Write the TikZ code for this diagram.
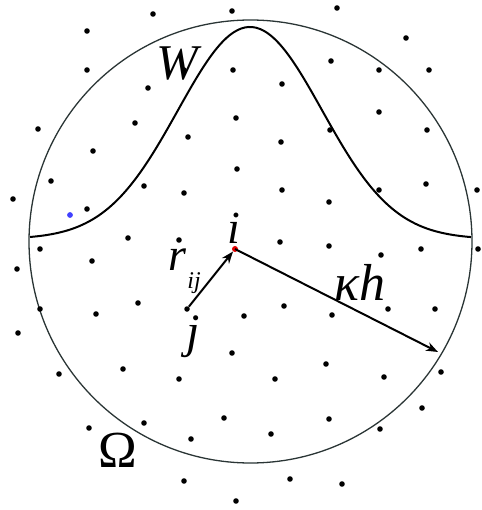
\documentclass[tikz,border=0pt]{standalone}
\usepackage{fontspec}
\setmainfont{Liberation Serif}
\usetikzlibrary{arrows.meta}
\definecolor{circcol}{HTML}{2A3535}
\tikzset{
  pt/.style={circle,fill=black,inner sep=0pt,minimum size=5.5pt},
  lbl/.style={inner sep=0pt,anchor=base},
  vec/.style={line width=2pt,-{Stealth[length=12pt,width=9pt]}},
}
\begin{document}
\begin{tikzpicture}[x=1pt,y=-1pt]
\useasboundingbox (0,0) rectangle (481,510);
% domain boundary
\draw[circcol,line width=1.3pt] (250.5,241.5) circle[radius=221.5];
% kernel W
\draw[line width=2pt] plot[smooth,samples=120,domain=30:471]
  (\x,{239-212*exp(-1*((\x-250)/102)*((\x-250)/102))});
% particles
\foreach \p in {
 (153,14),(232,11),(337,8),(406,38),(87,31),(331,61),
 (87,70),(184,70),(233,70),(379,70),(429,70),
 (148,88),(282,84),
 (379,112),(236,118),(135,123),(38,129),(330,130),(427,130),
 (188,137),(281,142),(93,151),
 (237,169),
 (51,181),(144,186),(426,184),(379,190),(282,190),(477,190),(184,193),
 (13,199),(329,202),(87,209),
 (128,238),(179,240),(280,242),(329,246),(421,249),(478,249),(40,249),(381,255),
 (92,261),(17,269),
 (138,303),(96,314),(40,309),(244,316),(284,306),(332,315),(388,309),(435,309),
 (18,333),
 (232,353),(326,364),
 (123,369),(59,374),(179,379),(275,379),(384,377),(441,372),
 (422,408),
 (144,423),(224,418),(89,428),(329,419),(380,429),(271,434),(191,439),
 (184,481),(290,479),(342,484),(236,501)}
  \fill \p circle[radius=2.8];
\fill[blue!75!white] (70,215) circle[radius=2.9];
% particles i and j
\node[pt] (j) at (187,309) {};
\node[circle,fill=red!90!black,inner sep=0pt,minimum size=6pt] (i) at (235,249) {};
\coordinate (k) at (438,352);
\draw[vec] (j) -- (i);
\draw[vec] (i.center) -- (k);
% labels
\node[lbl] (lW) at (177,80) {\fontsize{50}{50}\selectfont\itshape W};
\node[lbl] (li) at (234,243) {\fontsize{46}{46}\selectfont\itshape i};
\node[lbl] (lr) at (177,270) {\fontsize{46}{46}\selectfont\itshape r};
\node[lbl] (lij) at (194,288) {\fontsize{24}{24}\selectfont\itshape ij};
\node[lbl] (lj) at (193,347) {\fontsize{48}{48}\selectfont\itshape j};
\node[lbl] (lk) at (360,300) {\fontsize{52}{52}\selectfont\itshape κh};
\node[lbl] (lO) at (118,467) {\fontsize{52}{52}\selectfont Ω};
\end{tikzpicture}
\end{document}
